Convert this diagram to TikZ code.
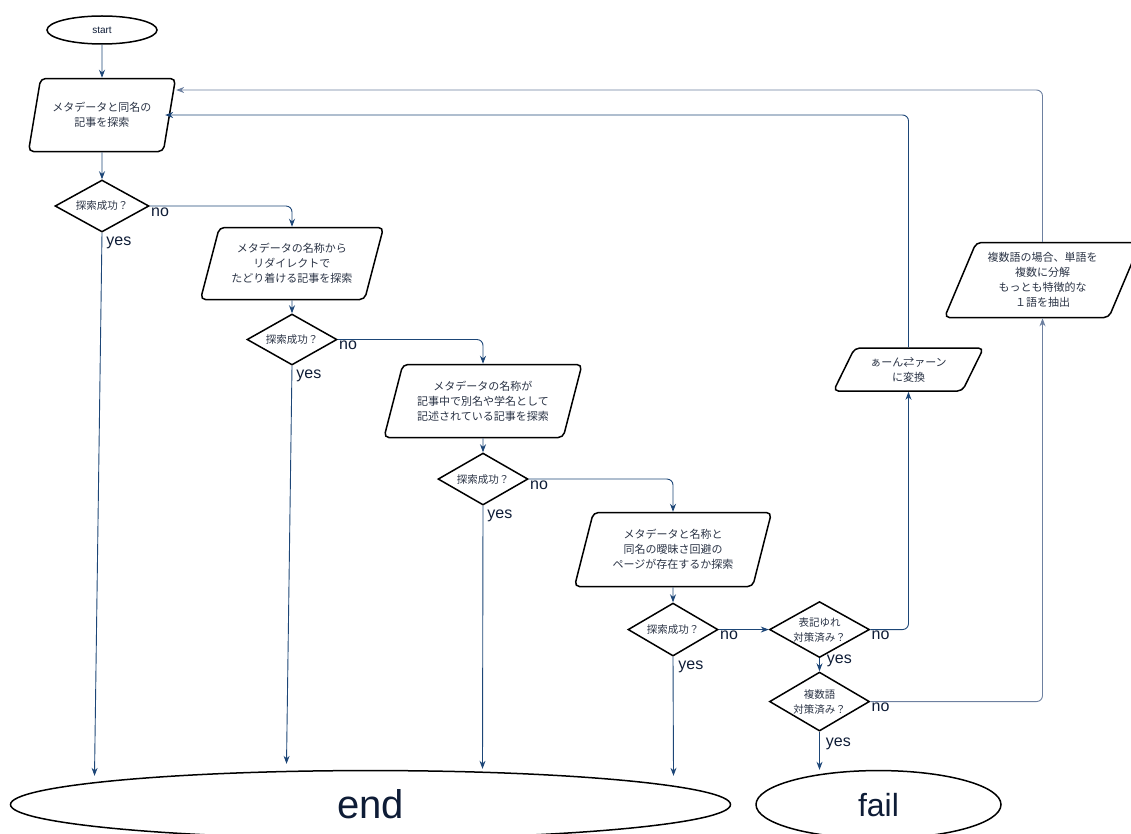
\documentclass[tikz,border=0pt]{standalone}
\usepackage{fontspec}
\setmainfont{Liberation Sans}
\newfontfamily\jpfont{Noto Sans CJK JP}
\usetikzlibrary{positioning, arrows.meta, shapes.geometric, calc}
\definecolor{linkblue}{HTML}{1D4677}
\definecolor{loopgray}{HTML}{6D80A0}
\definecolor{inkdark}{HTML}{0E1C36}
\definecolor{textgray}{HTML}{2A3345}

\begin{document}
\begin{tikzpicture}[x=1pt, y=-1pt,
  term/.style={draw, ellipse, line width=1.5pt, inner sep=0pt, text=inkdark},
  para/.style={draw, trapezium, trapezium left angle=66, trapezium right angle=114,
               trapezium stretches body, rounded corners=5pt, line width=1.5pt,
               inner sep=1pt, align=center, text=textgray,
               font=\jpfont\fontsize{11}{15}\selectfont},
  cond/.style={draw, diamond, aspect=1.8, line width=1.5pt, inner sep=0pt,
               align=center, text=textgray,
               font=\jpfont\fontsize{10.5}{15}\selectfont},
  arr/.style={-{Stealth[length=8pt, width=6pt]}, line width=0.9pt, color=linkblue},
  loop/.style={arr, color=loopgray},
  lbl/.style={font=\fontsize{16}{16}\selectfont, text=inkdark, inner sep=1pt},
]
\path[use as bounding box, clip] (0,0) rectangle (1131,834);

% ---- Main search chain ----
\node[term, minimum width=110pt, minimum height=28pt,
      font=\fontsize{10}{10}\selectfont] (start) at (102,30) {start};
\node[para, below=33pt of start, minimum width=147pt, minimum height=73pt] (srch1)
  {メタデータと同名の\\記事を探索};
\node[cond, below=27pt of srch1, minimum width=94pt, minimum height=52pt] (ok1) {探索成功？};

\node[para, below=-6pt of ok1, xshift=190pt, minimum width=183pt, minimum height=72pt] (srch2)
  {メタデータの名称から\\リダイレクトで\\たどり着ける記事を探索};
\node[cond, below=13pt of srch2, minimum width=90pt, minimum height=51pt] (ok2) {探索成功？};

\node[para, below=-2pt of ok2, xshift=191pt, minimum width=198pt, minimum height=73pt] (srch3)
  {メタデータの名称が\\記事中で別名や学名として\\記述されている記事を探索};
\node[cond, below=14pt of srch3, minimum width=90pt, minimum height=52pt] (ok3) {探索成功？};

\node[para, below=6pt of ok3, xshift=190pt, minimum width=197pt, minimum height=74pt] (srch4)
  {メタデータと名称と\\同名の曖昧さ回避の\\ページが存在するか探索};
\node[cond, below=15pt of srch4, minimum width=90pt, minimum height=53pt] (ok4) {探索成功？};

% ---- Fallback checks ----
\node[cond, right=50pt of ok4, minimum width=100pt, minimum height=56pt] (yure) {表記ゆれ\\対策済み？};
\node[cond, below=13pt of yure, minimum width=100pt, minimum height=59pt] (multi) {複数語\\対策済み？};

\node[para, above=209pt of yure, xshift=89pt, trapezium left angle=52, trapezium right angle=128,
      minimum width=150pt, minimum height=43pt] (kana) {ぁーん⇄ァーン\\に変換};
\node[para, above=353pt of multi, xshift=223pt, trapezium left angle=61, trapezium right angle=119,
      minimum width=196pt, minimum height=75pt] (split)
  {複数語の場合、単語を\\複数に分解\\もっとも特徴的な\\１語を抽出};

% ---- Terminals ----
\node[term, below=38pt of multi, xshift=59pt, minimum width=245pt, minimum height=68pt,
      font=\fontsize{32}{32}\selectfont] (fail) {fail};
\node[term, left=24pt of fail, minimum width=720pt, minimum height=68pt,
      font=\fontsize{40}{40}\selectfont] (end) {end};

\coordinate (in1) at ($(end.north)+(-276,6)$);
\coordinate (in2) at ($(end.north)+(-84,-6)$);
\coordinate (in3) at ($(end.north)+(112,-1)$);
\coordinate (in4) at ($(end.north)+(303,6)$);

% ---- Arrows ----
\draw[arr] (start) -- (srch1);
\draw[arr] (srch1) -- (ok1);
\draw[arr] (srch2) -- (ok2);
\draw[arr] (srch3) -- (ok3);
\draw[arr] (srch4) -- (ok4);

% no -> next search
\draw[arr, rounded corners=6pt] (ok1.east) -| (srch2) node[lbl, at start, anchor=north west] (no1) {no};
\draw[arr, rounded corners=6pt] (ok2.east) -| (srch3) node[lbl, at start, anchor=north west] (no2) {no};
\draw[arr, rounded corners=6pt] (ok3.east) -| (srch4) node[lbl, at start, anchor=north west] (no3) {no};
\draw[arr] (ok4.east) -- (yure.west) node[lbl, at start, anchor=north west] (no4) {no};

% yes -> end
\draw[arr] (ok1.south) -- (in1) node[lbl, at start, anchor=north west, xshift=3pt, yshift=-3pt] (yes1) {yes};
\draw[arr] (ok2.south) -- (in2) node[lbl, at start, anchor=north west, xshift=3pt, yshift=-3pt] (yes2) {yes};
\draw[arr] (ok3.south) -- (in3) node[lbl, at start, anchor=north west, xshift=3pt, yshift=-3pt] (yes3) {yes};
\draw[arr] (ok4.south) -- (in4) node[lbl, at start, anchor=north west, xshift=4pt, yshift=-3pt] (yes4) {yes};

% fallback loops
\draw[arr] (yure.south) -- (multi.north) node[lbl, at start, anchor=west, xshift=6pt, yshift=-3pt] (yes5) {yes};
\draw[arr, rounded corners=6pt] (yure.east) -| (kana) node[lbl, at start, anchor=north west] (no5) {no};
\draw[arr, rounded corners=6pt] (kana) |- ([xshift=-5pt]srch1.east);
\draw[loop, rounded corners=6pt] (multi.east) -| (split) node[lbl, at start, anchor=north west] (no6) {no};
\draw[loop, rounded corners=6pt] (split) |- ([xshift=6pt, yshift=25pt]srch1.east);
\draw[arr] (multi.south) -- (multi.south |- fail.north) node[lbl, at start, anchor=north west, xshift=5pt, yshift=-5pt] (yes6) {yes};

\end{tikzpicture}
\end{document}
